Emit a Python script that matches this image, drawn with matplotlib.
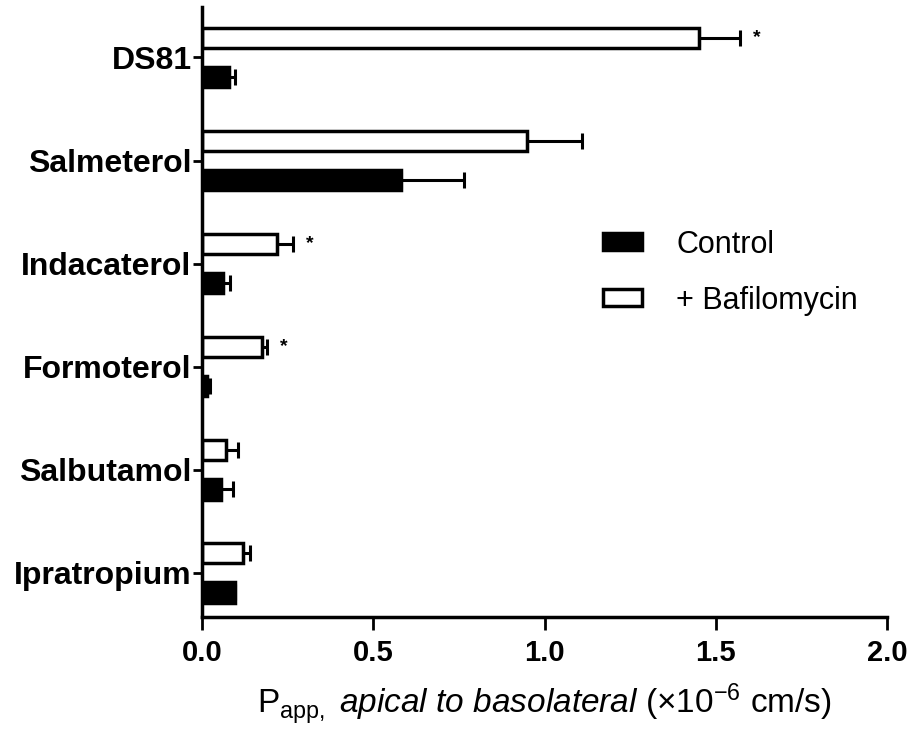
import numpy as np
import matplotlib
matplotlib.use('Agg')
from matplotlib import pyplot as plt

plt.rcParams['font.family'] = ['Liberation Sans', 'DejaVu Sans']
plt.rcParams['mathtext.fontset'] = 'custom'
plt.rcParams['mathtext.rm'] = 'Liberation Sans'
plt.rcParams['mathtext.it'] = 'Liberation Sans:italic'

# categories listed bottom to top
drugs = ['Ipratropium', 'Salbutamol', 'Formoterol', 'Indacaterol', 'Salmeterol', 'DS81']
control = [0.095, 0.055, 0.015, 0.06, 0.58, 0.08]
control_err = [0.0, 0.035, 0.008, 0.022, 0.185, 0.015]
bafilo = [0.12, 0.07, 0.175, 0.22, 0.95, 1.45]
bafilo_err = [0.02, 0.035, 0.015, 0.045, 0.16, 0.12]
significant = [False, False, True, True, False, True]

fig = plt.figure(figsize=(9.15, 7.44), dpi=100)
ax = fig.add_axes([0.2208, 0.1707, 0.7486, 0.8199])

y = np.arange(len(drugs))
h = 0.2
off = 0.19
ekw = dict(elinewidth=2.2, capthick=2.2, capsize=6, ecolor='black')

ax.barh(y - off, control, height=h, color='black', edgecolor='black',
        linewidth=2.5, label='Control',
        xerr=[np.zeros(len(y)), control_err], error_kw=ekw)
ax.barh(y + off, bafilo, height=h, color='white', edgecolor='black',
        linewidth=2.5, label='+ Bafilomycin',
        xerr=[np.zeros(len(y)), bafilo_err], error_kw=ekw)

for i, sig in enumerate(significant):
    if sig:
        ax.text(bafilo[i] + bafilo_err[i] + 0.05, y[i] + off, '*',
                fontsize=14, fontweight='bold', ha='center', va='center')

ax.set_xlim(0, 2.0)
ax.set_ylim(-0.43, 5.49)
ax.set_xticks([0.0, 0.5, 1.0, 1.5, 2.0])
ax.set_xticklabels(['0.0', '0.5', '1.0', '1.5', '2.0'], fontsize=21, fontweight='bold')
ax.set_yticks(y)
ax.set_yticklabels(drugs, fontsize=23, fontweight='bold')
ax.tick_params(axis='y', length=6.5, width=2, pad=1)
ax.tick_params(axis='x', length=9.5, width=2, pad=6)

for s in ['top', 'right']:
    ax.spines[s].set_visible(False)
for s in ['left', 'bottom']:
    ax.spines[s].set_linewidth(2.5)

ax.set_xlabel(r'P$_{\mathrm{app,}}$ $\mathit{apical\ to\ basolateral}$ (×10$^{-6}$ cm/s)',
              fontsize=24, labelpad=11)

handles, labels = ax.get_legend_handles_labels()
ax.legend(handles, labels, loc='upper left', bbox_to_anchor=(0.585, 0.635),
          frameon=False, fontsize=22, handlelength=1.3, handleheight=0.46,
          labelspacing=0.85, borderpad=0, borderaxespad=0, handletextpad=1.1)

fig.savefig('out.png', dpi=100, facecolor='white')
plt.close()
